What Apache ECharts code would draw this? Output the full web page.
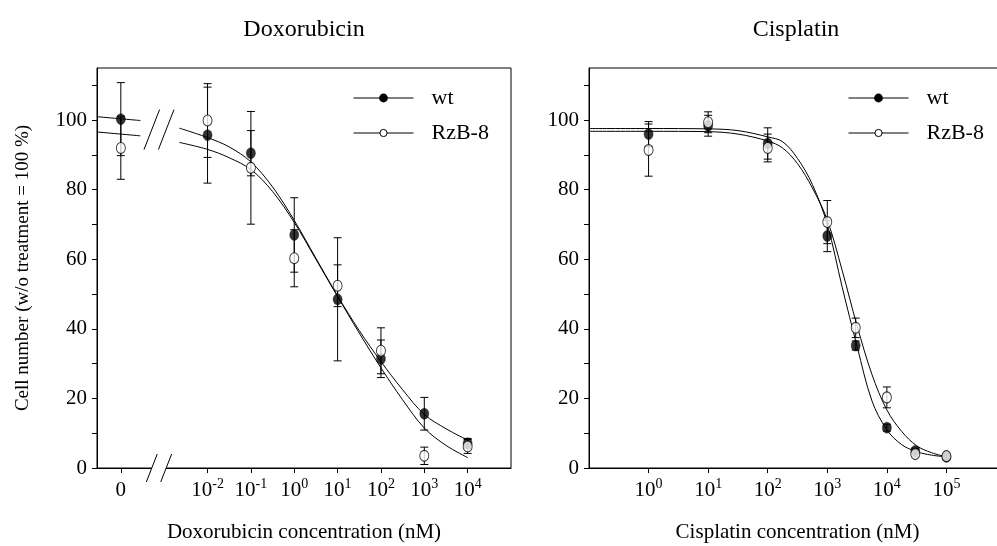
<!DOCTYPE html>
<html>
<head>
<meta charset="utf-8">
<script src="https://cdn.jsdelivr.net/npm/echarts@6/dist/echarts.min.js"></script>
<style>
  html, body { margin: 0; padding: 0; background: #fff; }
  #chart { width: 997px; height: 546px; }
</style>
</head>
<body>
<div id="chart"></div>
<script>
// ---------- Data (x = log10 of concentration in nM) ----------

// Doxorubicin: the untreated control "0" sits at -4, left of the axis break
const doxoTicks = [-4, -2, -1, 0, 1, 2, 3, 4];
const doxoTickLabels = ['0', '10^-2', '10^-1', '10^0', '10^1', '10^2', '10^3', '10^4'];
const doxoX = [-4, -2, -1, 0, 1, 2, 3, 4];
const doxoWtMean = [100.3, 95.7, 90.5, 67.0, 48.5, 31.4, 15.6, 7.1];
const doxoWtSD = [10.5, 13.8, 6.5, 10.7, 17.7, 5.4, 4.7, 1.4];
const doxoRzbMean = [92.0, 99.9, 86.3, 60.3, 52.4, 33.7, 3.5, 6.2];
const doxoRzbSD = [9.0, 10.6, 16.2, 8.2, 6.0, 6.6, 2.5, 2.0];

// fitted dose-response curves (control stub left of the break, main curve right of it)
const doxoStubX = [-4.55, -3.55];
const doxoWtStub = [101.0, 99.9];
const doxoRzbStub = [96.6, 95.5];
const doxoCurveX = [-2.65, -2, -1.5, -1, -0.5, 0, 0.5, 1, 1.5, 2, 2.5, 3, 3.5, 4];
const doxoWtCurve = [97.7, 95.0, 92.3, 88.0, 80.8, 71.2, 60.3, 49.5, 39.5, 30.6, 22.5, 15.4, 11.3, 8.0];
const doxoRzbCurve = [93.6, 91.6, 89.2, 85.8, 79.5, 70.6, 60.0, 49.3, 38.8, 28.8, 19.6, 11.5, 6.5, 3.0];
const doxoBreakX = -3.12;
const doxoBreakY = [97.3, 0];

// Cisplatin
const cisTicks = [0, 1, 2, 3, 4, 5];
const cisTickLabels = ['10^0', '10^1', '10^2', '10^3', '10^4', '10^5'];
const cisX = [0, 1, 2, 3, 3.477, 4, 4.477, 5];
const cisWtMean = [96.0, 98.4, 93.3, 66.7, 35.2, 11.6, 4.9, 3.2];
const cisWtSD = [3.6, 3.0, 4.5, 4.5, 1.3, 1.0, 0.8, 0.5];
const cisRzbMean = [91.4, 99.4, 92.0, 70.7, 40.3, 20.3, 4.0, 3.4];
const cisRzbSD = [7.5, 3.0, 4.0, 6.2, 2.8, 3.0, 0.8, 0.8];
const cisCurveX = [-1, 0, 1, 1.5, 2, 2.25, 2.5, 2.75, 3, 3.25, 3.5, 3.75, 4, 4.25, 4.5, 4.75, 5];
const cisWtCurve = [97.6, 97.6, 97.5, 97.0, 95.2, 93.8, 89.0, 81.5, 70.0, 52.0, 35.0, 19.3, 11.0, 6.7, 4.7, 3.7, 3.2];
const cisRzbCurve = [96.8, 96.8, 96.7, 96.0, 94.0, 92.0, 87.5, 80.5, 71.3, 56.8, 40.9, 26.9, 16.7, 10.5, 6.4, 4.4, 3.2];

// y axis
const yTickValues = [0, 10, 20, 30, 40, 50, 60, 70, 80, 90, 100, 110];
const yLabelValues = [0, 20, 40, 60, 80, 100];

// ---------- Styling helpers ----------
const SERIF = "'Liberation Serif', 'Times New Roman', serif";
const BLACK = '#000';

function pairs(xs, ys) { return xs.map((x, i) => [x, ys[i]]); }

function tickFormatter(ticks, labels) {
  return function (v) {
    const i = ticks.findIndex(t => Math.abs(t - v) < 1e-6);
    if (i < 0) return '';
    const s = labels[i];
    if (s.indexOf('^') < 0) return '{b|' + s + '}';
    const parts = s.split('^');
    return '{b|' + parts[0] + '}{s|' + parts[1] + '}';
  };
}
const tickRich = {
  b: { fontFamily: SERIF, fontSize: 21, color: BLACK, lineHeight: 26 },
  s: { fontFamily: SERIF, fontSize: 14, color: BLACK, lineHeight: 16, verticalAlign: 'top' }
};

function xAxis(idx, min, max, ticks, labels, name) {
  return {
    type: 'value', gridIndex: idx, min: min, max: max,
    axisLine: { show: true, onZero: false, lineStyle: { color: BLACK, width: 1 } },
    axisTick: { show: true, inside: false, length: 5, customValues: ticks, lineStyle: { color: BLACK } },
    axisLabel: { customValues: ticks, margin: 9, formatter: tickFormatter(ticks, labels), rich: tickRich },
    splitLine: { show: false },
    name: name, nameLocation: 'middle', nameGap: 54,
    nameTextStyle: { fontFamily: SERIF, fontSize: 21, color: BLACK }
  };
}

function yAxis(idx, name) {
  return {
    type: 'value', gridIndex: idx, min: 0, max: 115,
    axisLine: { show: true, onZero: false, lineStyle: { color: BLACK, width: 1 } },
    axisTick: { show: true, inside: false, length: 5, customValues: yTickValues, lineStyle: { color: BLACK } },
    axisLabel: { customValues: yLabelValues, margin: 10, fontFamily: SERIF, fontSize: 21, color: BLACK },
    splitLine: { show: false },
    name: name, nameLocation: 'middle', nameGap: 64,
    nameTextStyle: { fontFamily: SERIF, fontSize: 19, color: BLACK }
  };
}

const hollowStyle = { color: '#fff', borderColor: BLACK, borderWidth: 1 };
const solidStyle = { color: BLACK, borderColor: BLACK, borderWidth: 0.5 };

function curve(name, idx, xs, ys, hollow) {
  return {
    type: 'line', name: name, xAxisIndex: idx, yAxisIndex: idx,
    data: pairs(xs, ys), smooth: 0.35,
    symbol: 'circle', showSymbol: false,
    lineStyle: { color: BLACK, width: 1 },
    itemStyle: hollow ? hollowStyle : solidStyle,
    emphasis: { disabled: true }, silent: true, z: 2
  };
}

function points(idx, xs, ys, hollow) {
  return {
    type: 'scatter', xAxisIndex: idx, yAxisIndex: idx,
    data: pairs(xs, ys), symbol: 'circle', symbolSize: [9, 11],
    itemStyle: hollow ? hollowStyle : solidStyle,
    emphasis: { disabled: true }, silent: true, z: hollow ? 5 : 4
  };
}

function errorBars(idx, xs, ys, sd) {
  return {
    type: 'custom', xAxisIndex: idx, yAxisIndex: idx,
    data: xs.map((x, i) => [x, ys[i], sd[i]]),
    encode: { x: 0, y: 1 },
    clip: false, silent: true, z: 3,
    renderItem: function (params, api) {
      const x = api.value(0), y = api.value(1), e = api.value(2);
      const top = api.coord([x, y + e]);
      const bot = api.coord([x, y - e]);
      const hw = 4;
      const st = { stroke: BLACK, lineWidth: 1 };
      return {
        type: 'group', children: [
          { type: 'line', shape: { x1: top[0], y1: top[1], x2: bot[0], y2: bot[1] }, style: st },
          { type: 'line', shape: { x1: top[0] - hw, y1: top[1], x2: top[0] + hw, y2: top[1] }, style: st },
          { type: 'line', shape: { x1: bot[0] - hw, y1: bot[1], x2: bot[0] + hw, y2: bot[1] }, style: st }
        ]
      };
    }
  };
}

// "//" break marks on the Doxorubicin panel (in the plot and across the x axis)
const breakSeries = {
  type: 'custom', xAxisIndex: 0, yAxisIndex: 0,
  data: doxoBreakY.map(y => [doxoBreakX, y]),
  encode: { x: 0, y: 1 },
  clip: false, silent: true, z: 6,
  renderItem: function (params, api) {
    const c = api.coord([api.value(0), api.value(1)]);
    const onAxis = api.value(1) === 0;
    const hh = onAxis ? 14 : 20, hw = hh * 0.39, sep = 7.2;
    const st = { stroke: BLACK, lineWidth: 1 };
    const kids = [];
    if (onAxis) {
      kids.push({ type: 'rect', shape: { x: c[0] - sep, y: c[1] - 2, width: 2 * sep, height: 4 }, style: { fill: '#fff' } });
    }
    [-sep, sep].forEach(function (d) {
      kids.push({ type: 'line', shape: { x1: c[0] + d - hw, y1: c[1] + hh, x2: c[0] + d + hw, y2: c[1] - hh }, style: st });
    });
    return { type: 'group', children: kids };
  }
};

function legendItem(name, left, top, hollow, h) {
  return {
    data: [name], left: left, top: top, padding: 0,
    itemWidth: 60, itemHeight: h, selectedMode: false,
    textStyle: { fontFamily: SERIF, fontSize: 22, color: BLACK, lineHeight: 26, padding: [0, 0, 0, 13] },
    itemStyle: hollow ? { color: '#fff', borderColor: BLACK, borderWidth: 1 } : { color: BLACK, borderWidth: 0 },
    lineStyle: { color: BLACK, width: 1 }
  };
}

const gridBase = { top: 68, height: 400, show: true, borderColor: BLACK, borderWidth: 1,
  backgroundColor: 'transparent', outerBoundsMode: 'none', containLabel: false };

const option = {
  animation: false,
  backgroundColor: '#fff',
  title: [
    { text: 'Doxorubicin', left: 304, top: 18, textAlign: 'center', padding: 0,
      textStyle: { fontFamily: SERIF, fontSize: 24, fontWeight: 'normal', color: BLACK } },
    { text: 'Cisplatin', left: 796, top: 18, textAlign: 'center', padding: 0,
      textStyle: { fontFamily: SERIF, fontSize: 24, fontWeight: 'normal', color: BLACK } }
  ],
  legend: [
    legendItem('wt', 353, 85, false, 11),
    legendItem('RzB-8', 353, 120, true, 9),
    legendItem('wt', 848, 85, false, 11),
    legendItem('RzB-8', 848, 120, true, 9)
  ],
  grid: [
    Object.assign({ left: 97, width: 414 }, gridBase),
    Object.assign({ left: 589, width: 417 }, gridBase)
  ],
  xAxis: [
    xAxis(0, -4.55, 5, doxoTicks, doxoTickLabels, 'Doxorubicin concentration (nM)'),
    xAxis(1, -1, 6, cisTicks, cisTickLabels, 'Cisplatin concentration (nM)')
  ],
  yAxis: [
    yAxis(0, 'Cell number (w/o treatment = 100 %)'),
    yAxis(1, '')
  ],
  series: [
    curve('wt', 0, doxoCurveX, doxoWtCurve, false),
    curve('RzB-8', 0, doxoCurveX, doxoRzbCurve, true),
    curve('', 0, doxoStubX, doxoWtStub, false),
    curve('', 0, doxoStubX, doxoRzbStub, true),
    curve('', 1, cisCurveX, cisWtCurve, false),
    curve('', 1, cisCurveX, cisRzbCurve, true),
    errorBars(0, doxoX, doxoWtMean, doxoWtSD),
    errorBars(0, doxoX, doxoRzbMean, doxoRzbSD),
    errorBars(1, cisX, cisWtMean, cisWtSD),
    errorBars(1, cisX, cisRzbMean, cisRzbSD),
    points(0, doxoX, doxoWtMean, false),
    points(0, doxoX, doxoRzbMean, true),
    points(1, cisX, cisWtMean, false),
    points(1, cisX, cisRzbMean, true),
    breakSeries
  ]
};

const chart = echarts.init(document.getElementById('chart'), null, { renderer: 'canvas' });
chart.setOption(option);
</script>
</body>
</html>
